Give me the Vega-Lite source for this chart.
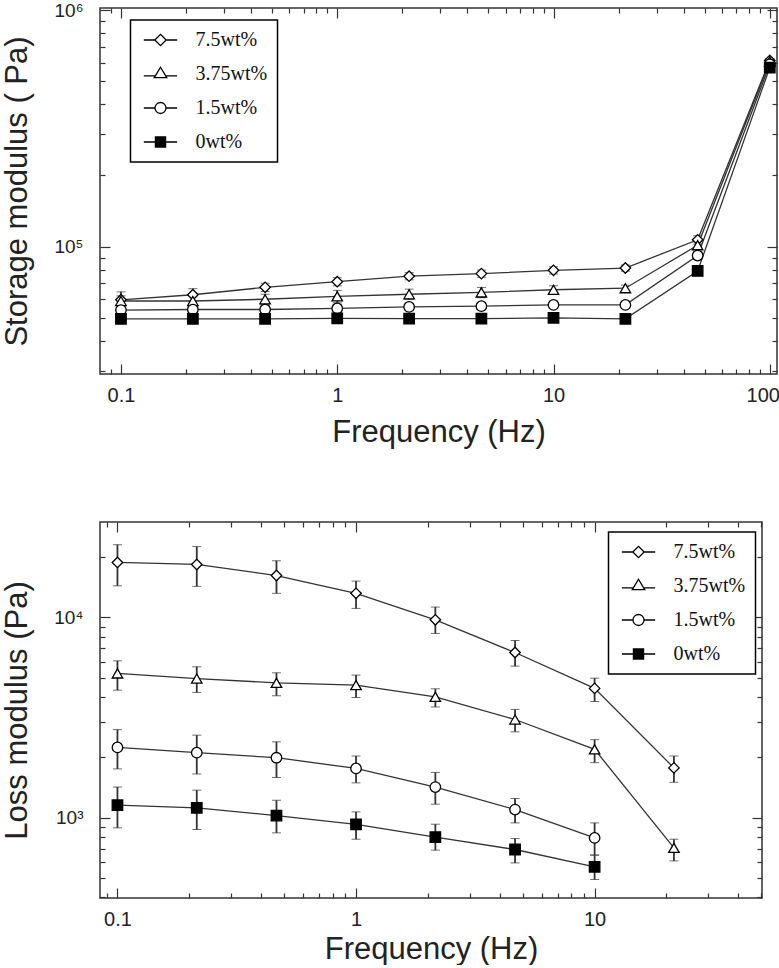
{
  "$schema": "https://vega.github.io/schema/vega-lite/v6.json",
  "background": "white",
  "padding": {"left": 0, "top": 0, "right": 0, "bottom": 0},
  "config": {
    "font": "Liberation Sans",
    "view": {"stroke": "#333", "strokeWidth": 1.5},
    "axis": {
      "domain": false, "grid": false, "tickColor": "#333", "tickWidth": 1.2,
      "labelFont": "Liberation Sans", "labelFontSize": 20, "labelColor": "#222",
      "titleFont": "Liberation Sans", "titleFontSize": 31, "titleFontWeight": "normal", "titleColor": "#222",
      "labelOverlap": false, "labelFlush": false
    },
    "legend": {"strokeColor": "black", "strokeWidth": 1.5, "fillColor": "white", "padding": 10, "symbolSize": 210, "symbolOffset": 10, "labelOffset": 25, "rowPadding": 14,
      "labelFont": "Liberation Serif", "labelFontSize": 20, "labelColor": "#111", "symbolStrokeWidth": 1.3, "symbolOpacity": 1}
  },
  "datasets": {
    "storage": [
      {"f": 0.1, "s": "7.5wt%", "v": 59700, "lo": 54900, "hi": 64500},
      {"f": 0.215, "s": "7.5wt%", "v": 62700, "lo": 58900, "hi": 66500},
      {"f": 0.464, "s": "7.5wt%", "v": 67400, "lo": 64700, "hi": 70100},
      {"f": 1, "s": "7.5wt%", "v": 71200, "lo": 68400, "hi": 74000},
      {"f": 2.15, "s": "7.5wt%", "v": 75100, "lo": 72500, "hi": 77700},
      {"f": 4.64, "s": "7.5wt%", "v": 77000, "lo": 74300, "hi": 79700},
      {"f": 10, "s": "7.5wt%", "v": 79500, "lo": 76700, "hi": 82300},
      {"f": 21.5, "s": "7.5wt%", "v": 81300, "lo": 78900, "hi": 83700},
      {"f": 46.4, "s": "7.5wt%", "v": 107000, "lo": 102700, "hi": 111300},
      {"f": 100, "s": "7.5wt%", "v": 612000, "lo": 600000, "hi": 624000},
      {"f": 0.1, "s": "3.75wt%", "v": 59000, "lo": 56000, "hi": 62000},
      {"f": 0.215, "s": "3.75wt%", "v": 59000, "lo": 56000, "hi": 62000},
      {"f": 0.464, "s": "3.75wt%", "v": 60000, "lo": 57000, "hi": 63000},
      {"f": 1, "s": "3.75wt%", "v": 61700, "lo": 58000, "hi": 65400},
      {"f": 2.15, "s": "3.75wt%", "v": 63000, "lo": 59800, "hi": 66200},
      {"f": 4.64, "s": "3.75wt%", "v": 64100, "lo": 60900, "hi": 67300},
      {"f": 10, "s": "3.75wt%", "v": 65800, "lo": 63200, "hi": 68400},
      {"f": 21.5, "s": "3.75wt%", "v": 66800, "lo": 64800, "hi": 68800},
      {"f": 46.4, "s": "3.75wt%", "v": 101500, "lo": 97400, "hi": 105600},
      {"f": 100, "s": "3.75wt%", "v": 605000, "lo": 593000, "hi": 617000},
      {"f": 0.1, "s": "1.5wt%", "v": 54000, "lo": 51800, "hi": 56200},
      {"f": 0.215, "s": "1.5wt%", "v": 54300, "lo": 52100, "hi": 56500},
      {"f": 0.464, "s": "1.5wt%", "v": 54300, "lo": 52100, "hi": 56500},
      {"f": 1, "s": "1.5wt%", "v": 54900, "lo": 52700, "hi": 57100},
      {"f": 2.15, "s": "1.5wt%", "v": 55700, "lo": 53800, "hi": 57600},
      {"f": 4.64, "s": "1.5wt%", "v": 56100, "lo": 54100, "hi": 58100},
      {"f": 10, "s": "1.5wt%", "v": 56800, "lo": 54800, "hi": 58800},
      {"f": 21.5, "s": "1.5wt%", "v": 56800, "lo": 55100, "hi": 58500},
      {"f": 46.4, "s": "1.5wt%", "v": 91800, "lo": 88100, "hi": 95500},
      {"f": 100, "s": "1.5wt%", "v": 590000, "lo": 578000, "hi": 602000},
      {"f": 0.1, "s": "0wt%", "v": 49600, "lo": 47600, "hi": 51600},
      {"f": 0.215, "s": "0wt%", "v": 49600, "lo": 47600, "hi": 51600},
      {"f": 0.464, "s": "0wt%", "v": 49600, "lo": 47600, "hi": 51600},
      {"f": 1, "s": "0wt%", "v": 49800, "lo": 47800, "hi": 51800},
      {"f": 2.15, "s": "0wt%", "v": 49700, "lo": 47700, "hi": 51700},
      {"f": 4.64, "s": "0wt%", "v": 49700, "lo": 47700, "hi": 51700},
      {"f": 10, "s": "0wt%", "v": 50100, "lo": 48100, "hi": 52100},
      {"f": 21.5, "s": "0wt%", "v": 49600, "lo": 48600, "hi": 50600},
      {"f": 46.4, "s": "0wt%", "v": 79000, "lo": 77400, "hi": 80600},
      {"f": 100, "s": "0wt%", "v": 571000, "lo": 560000, "hi": 582000}
    ],
    "loss": [
      {"f": 0.1, "s": "7.5wt%", "v": 18840, "lo": 14400, "hi": 23100},
      {"f": 0.215, "s": "7.5wt%", "v": 18400, "lo": 14300, "hi": 22600},
      {"f": 0.464, "s": "7.5wt%", "v": 16200, "lo": 13200, "hi": 19200},
      {"f": 1, "s": "7.5wt%", "v": 13200, "lo": 11100, "hi": 15200},
      {"f": 2.15, "s": "7.5wt%", "v": 9730, "lo": 8320, "hi": 11270},
      {"f": 4.64, "s": "7.5wt%", "v": 6680, "lo": 5710, "hi": 7670},
      {"f": 10, "s": "7.5wt%", "v": 4420, "lo": 3800, "hi": 4970},
      {"f": 21.5, "s": "7.5wt%", "v": 1770, "lo": 1500, "hi": 2030},
      {"f": 0.1, "s": "3.75wt%", "v": 5250, "lo": 4330, "hi": 6070},
      {"f": 0.215, "s": "3.75wt%", "v": 4950, "lo": 4220, "hi": 5670},
      {"f": 0.464, "s": "3.75wt%", "v": 4710, "lo": 4060, "hi": 5290},
      {"f": 1, "s": "3.75wt%", "v": 4590, "lo": 3980, "hi": 5150},
      {"f": 2.15, "s": "3.75wt%", "v": 4010, "lo": 3570, "hi": 4400},
      {"f": 4.64, "s": "3.75wt%", "v": 3090, "lo": 2680, "hi": 3470},
      {"f": 10, "s": "3.75wt%", "v": 2190, "lo": 1880, "hi": 2450},
      {"f": 21.5, "s": "3.75wt%", "v": 705, "lo": 607, "hi": 779},
      {"f": 0.1, "s": "1.5wt%", "v": 2240, "lo": 1750, "hi": 2750},
      {"f": 0.215, "s": "1.5wt%", "v": 2110, "lo": 1650, "hi": 2580},
      {"f": 0.464, "s": "1.5wt%", "v": 1990, "lo": 1585, "hi": 2390},
      {"f": 1, "s": "1.5wt%", "v": 1760, "lo": 1490, "hi": 2030},
      {"f": 2.15, "s": "1.5wt%", "v": 1420, "lo": 1166, "hi": 1680},
      {"f": 4.64, "s": "1.5wt%", "v": 1096, "lo": 940, "hi": 1245},
      {"f": 10, "s": "1.5wt%", "v": 791, "lo": 649, "hi": 940},
      {"f": 0.1, "s": "0wt%", "v": 1152, "lo": 888, "hi": 1420},
      {"f": 0.215, "s": "0wt%", "v": 1118, "lo": 871, "hi": 1370},
      {"f": 0.464, "s": "0wt%", "v": 1023, "lo": 838, "hi": 1220},
      {"f": 1, "s": "0wt%", "v": 923, "lo": 779, "hi": 1067},
      {"f": 2.15, "s": "0wt%", "v": 798, "lo": 687, "hi": 926},
      {"f": 4.64, "s": "0wt%", "v": 692, "lo": 593, "hi": 785},
      {"f": 10, "s": "0wt%", "v": 567, "lo": 490, "hi": 649}
    ]
  },
  "columns": 1,
  "spacing": 72,
  "resolve": {"scale": {"shape": "independent", "fill": "independent"}, "legend": {"shape": "independent", "fill": "independent"}},
  "concat": [
    {
      "width": 677,
      "height": 366,
      "data": {"name": "storage"},
      "resolve": {"scale": {"shape": "independent"}, "axis": {"x": "independent", "y": "independent"}},
      "layer": [
        {
          "mark": {"type": "errorbar", "ticks": {"size": 9, "strokeWidth": 1.8, "color": "#333"}, "rule": {"strokeWidth": 1.8, "color": "#333"}},
          "encoding": {
            "x": {"field": "f", "type": "quantitative", "scale": {"type": "log", "domain": [0.08, 108], "nice": false}, "axis": null},
            "y": {"field": "lo", "type": "quantitative", "scale": {"type": "log", "domain": [29000, 1020000], "nice": false}, "axis": null},
            "y2": {"field": "hi"}
          }
        },
        {
          "mark": {"type": "line", "color": "#333", "strokeWidth": 1.3},
          "encoding": {
            "x": {"field": "f", "type": "quantitative", "scale": {"type": "log", "domain": [0.08, 108], "nice": false},
              "axis": {"orient": "bottom", "title": "Frequency (Hz)", "values": [0.09,0.1,0.2,0.3,0.4,0.5,0.6,0.7,0.8,0.9,1,2,3,4,5,6,7,8,9,10,20,30,40,50,60,70,80,90,100],
                "labelExpr": "abs(log(datum.value)/LN10-round(log(datum.value)/LN10))<0.001 ? format(datum.value,'~g') : ''",
                "tickSize": {"expr": "abs(log(datum.value)/LN10-round(log(datum.value)/LN10))<0.001 ? -10 : -5"},
                "labelOffset": {"expr": "datum.value >= 100 ? -7 : 0"},
                "labelPadding": 21, "titlePadding": 7}},
            "y": {"field": "v", "type": "quantitative", "scale": {"type": "log", "domain": [29000, 1020000], "nice": false},
              "axis": {"orient": "left", "title": "Storage modulus ( Pa)", "values": [30000,40000,50000,60000,70000,80000,90000,100000,200000,300000,400000,500000,600000,700000,800000,900000,1000000],
                "labelExpr": "abs(log(datum.value)/LN10-round(log(datum.value)/LN10))<0.001 ? '10' + ['⁰','¹','²','³','⁴','⁵','⁶'][round(log(datum.value)/LN10)] : ''",
                "tickSize": {"expr": "abs(log(datum.value)/LN10-round(log(datum.value)/LN10))<0.001 ? -10 : -5"},
                "labelFontSize": 19, "labelPadding": 27, "titlePadding": 12, "minExtent": 55, "maxExtent": 55}},
            "detail": {"field": "s"}
          }
        },
        {
          "mark": {"type": "point", "filled": true, "stroke": "black", "strokeWidth": 1.3, "opacity": 1, "size": 110},
          "encoding": {
            "x": {"field": "f", "type": "quantitative", "scale": {"type": "log", "domain": [0.08, 108], "nice": false},
              "axis": {"orient": "top", "title": null, "labels": false, "values": [0.09,0.1,0.2,0.3,0.4,0.5,0.6,0.7,0.8,0.9,1,2,3,4,5,6,7,8,9,10,20,30,40,50,60,70,80,90,100],
                "tickSize": {"expr": "abs(log(datum.value)/LN10-round(log(datum.value)/LN10))<0.001 ? -10 : -5"}}},
            "y": {"field": "v", "type": "quantitative", "scale": {"type": "log", "domain": [29000, 1020000], "nice": false},
              "axis": {"orient": "right", "title": null, "labels": false, "values": [30000,40000,50000,60000,70000,80000,90000,100000,200000,300000,400000,500000,600000,700000,800000,900000,1000000],
                "tickSize": {"expr": "abs(log(datum.value)/LN10-round(log(datum.value)/LN10))<0.001 ? -10 : -5"}}},
            "fill": {"field": "s", "type": "nominal", "scale": {"domain": ["7.5wt%", "3.75wt%", "1.5wt%", "0wt%"], "range": ["white", "white", "white", "black"]}, "legend": null},
            "shape": {"field": "s", "type": "nominal", "scale": {"domain": ["7.5wt%", "3.75wt%", "1.5wt%", "0wt%"], "range": ["diamond", "triangle-up", "circle", "square"]}, "legend": null}
          }
        },
        {
          "mark": {"type": "point", "filled": false, "stroke": "black", "strokeWidth": 1.3, "opacity": 0, "size": 110},
          "encoding": {
            "x": {"field": "f", "type": "quantitative", "scale": {"type": "log", "domain": [0.08, 108], "nice": false}, "axis": null},
            "y": {"field": "v", "type": "quantitative", "scale": {"type": "log", "domain": [29000, 1020000], "nice": false}, "axis": null},
            "shape": {"field": "s", "type": "nominal",
              "scale": {"domain": ["7.5wt%", "3.75wt%", "1.5wt%", "0wt%"],
                "range": ["M-2.3,0H-0.78M0.78,0H2.3M-0.78,0L0,-0.78L0.78,0L0,0.78Z",
                          "M-2.3,0.25H-0.71M0.71,0.25H2.3M0,-0.93L0.86,0.5L-0.86,0.5Z",
                          "M-2.3,0H-0.76M0.76,0H2.3M-0.76,0A0.76,0.76,0,1,1,0.76,0A0.76,0.76,0,1,1,-0.76,0Z",
                          "M-2.3,0H-0.7M0.7,0H2.3M-0.7,-0.7H0.7V0.7H-0.7ZM-0.7,-0.6H0.7V-0.48H-0.7V-0.36H0.7V-0.24H-0.7V-0.12H0.7V0H-0.7V0.12H0.7V0.24H-0.7V0.36H0.7V0.48H-0.7V0.6H0.7"]},
              "legend": {"orient": "none", "legendX": 30.5, "legendY": 12, "title": null}}
          }
        }
      ]
    },
    {
      "width": 662,
      "height": 376,
      "data": {"name": "loss"},
      "resolve": {"scale": {"shape": "independent"}, "axis": {"x": "independent", "y": "independent"}},
      "layer": [
        {
          "mark": {"type": "errorbar", "ticks": {"size": 9, "strokeWidth": 1.8, "color": "#333"}, "rule": {"strokeWidth": 1.8, "color": "#333"}},
          "encoding": {
            "x": {"field": "f", "type": "quantitative", "scale": {"type": "log", "domain": [0.0845, 50.3], "nice": false}, "axis": null},
            "y": {"field": "lo", "type": "quantitative", "scale": {"type": "log", "domain": [396, 30000], "nice": false}, "axis": null},
            "y2": {"field": "hi"}
          }
        },
        {
          "mark": {"type": "line", "color": "#333", "strokeWidth": 1.3},
          "encoding": {
            "x": {"field": "f", "type": "quantitative", "scale": {"type": "log", "domain": [0.0845, 50.3], "nice": false},
              "axis": {"orient": "bottom", "title": "Frequency (Hz)", "values": [0.09,0.1,0.2,0.3,0.4,0.5,0.6,0.7,0.8,0.9,1,2,3,4,5,6,7,8,9,10,20,30,40,50],
                "labelExpr": "abs(log(datum.value)/LN10-round(log(datum.value)/LN10))<0.001 ? format(datum.value,'~g') : ''",
                "tickSize": {"expr": "abs(log(datum.value)/LN10-round(log(datum.value)/LN10))<0.001 ? -10 : -5"},
                "labelPadding": 21, "titlePadding": 0}},
            "y": {"field": "v", "type": "quantitative", "scale": {"type": "log", "domain": [396, 30000], "nice": false},
              "axis": {"orient": "left", "title": "Loss modulus  (Pa)", "values": [400,500,600,700,800,900,1000,2000,3000,4000,5000,6000,7000,8000,9000,10000,20000],
                "labelExpr": "abs(log(datum.value)/LN10-round(log(datum.value)/LN10))<0.001 ? '10' + ['⁰','¹','²','³','⁴','⁵','⁶'][round(log(datum.value)/LN10)] : ''",
                "tickSize": {"expr": "abs(log(datum.value)/LN10-round(log(datum.value)/LN10))<0.001 ? -10 : -5"},
                "labelFontSize": 19, "labelPadding": 27, "titlePadding": 12, "minExtent": 55, "maxExtent": 55}},
            "detail": {"field": "s"}
          }
        },
        {
          "mark": {"type": "point", "filled": true, "stroke": "black", "strokeWidth": 1.3, "opacity": 1, "size": 110},
          "encoding": {
            "x": {"field": "f", "type": "quantitative", "scale": {"type": "log", "domain": [0.0845, 50.3], "nice": false},
              "axis": {"orient": "top", "title": null, "labels": false, "values": [0.09,0.1,0.2,0.3,0.4,0.5,0.6,0.7,0.8,0.9,1,2,3,4,5,6,7,8,9,10,20,30,40,50],
                "tickSize": {"expr": "abs(log(datum.value)/LN10-round(log(datum.value)/LN10))<0.001 ? -10 : -5"}}},
            "y": {"field": "v", "type": "quantitative", "scale": {"type": "log", "domain": [396, 30000], "nice": false},
              "axis": {"orient": "right", "title": null, "labels": false, "values": [400,500,600,700,800,900,1000,2000,3000,4000,5000,6000,7000,8000,9000,10000,20000],
                "tickSize": {"expr": "abs(log(datum.value)/LN10-round(log(datum.value)/LN10))<0.001 ? -10 : -5"}}},
            "fill": {"field": "s", "type": "nominal", "scale": {"domain": ["7.5wt%", "3.75wt%", "1.5wt%", "0wt%"], "range": ["white", "white", "white", "black"]}, "legend": null},
            "shape": {"field": "s", "type": "nominal", "scale": {"domain": ["7.5wt%", "3.75wt%", "1.5wt%", "0wt%"], "range": ["diamond", "triangle-up", "circle", "square"]}, "legend": null}
          }
        },
        {
          "mark": {"type": "point", "filled": false, "stroke": "black", "strokeWidth": 1.3, "opacity": 0, "size": 110},
          "encoding": {
            "x": {"field": "f", "type": "quantitative", "scale": {"type": "log", "domain": [0.0845, 50.3], "nice": false}, "axis": null},
            "y": {"field": "v", "type": "quantitative", "scale": {"type": "log", "domain": [396, 30000], "nice": false}, "axis": null},
            "shape": {"field": "s", "type": "nominal",
              "scale": {"domain": ["7.5wt%", "3.75wt%", "1.5wt%", "0wt%"],
                "range": ["M-2.3,0H-0.78M0.78,0H2.3M-0.78,0L0,-0.78L0.78,0L0,0.78Z",
                          "M-2.3,0.25H-0.71M0.71,0.25H2.3M0,-0.93L0.86,0.5L-0.86,0.5Z",
                          "M-2.3,0H-0.76M0.76,0H2.3M-0.76,0A0.76,0.76,0,1,1,0.76,0A0.76,0.76,0,1,1,-0.76,0Z",
                          "M-2.3,0H-0.7M0.7,0H2.3M-0.7,-0.7H0.7V0.7H-0.7ZM-0.7,-0.6H0.7V-0.48H-0.7V-0.36H0.7V-0.24H-0.7V-0.12H0.7V0H-0.7V0.12H0.7V0.24H-0.7V0.36H0.7V0.48H-0.7V0.6H0.7"]},
              "legend": {"orient": "none", "legendX": 508.5, "legendY": 10, "title": null}}
          }
        }
      ]
    }
  ]
}
